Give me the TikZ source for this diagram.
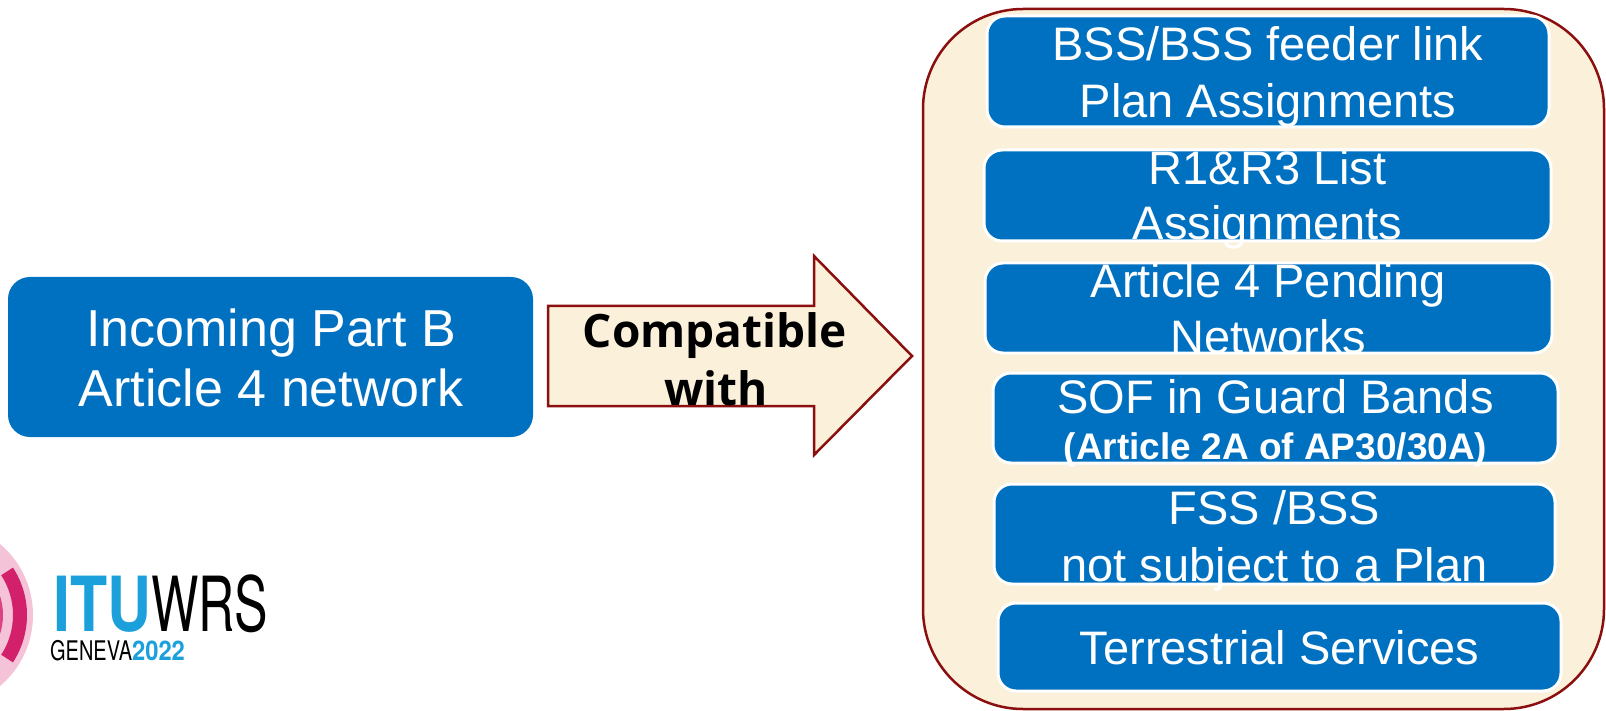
\documentclass[tikz,border=0pt]{standalone}
\usepackage{fontspec}
\usetikzlibrary{calc}
\setmainfont{Liberation Sans}
\newfontfamily\compfont{Open Sans}
\newfontfamily\logofont{TeX Gyre Heros}
\definecolor{boxblue}{HTML}{0070C0}
\definecolor{parch}{HTML}{FBF0DA}
\definecolor{darkred}{HTML}{8B0F0F}
\definecolor{itublue}{HTML}{1BA0DC}
\definecolor{pinklight}{HTML}{F4C3D7}
\definecolor{ringdark}{HTML}{D3206B}
\begin{document}
\begin{tikzpicture}[x=1pt,y=-1pt,
  bluebox/.style={draw=white, line width=3pt, fill=boxblue, rounded corners=18pt, inner sep=0pt},
  boxtext/.style={text=white, inner sep=0pt, anchor=base, font=\fontsize{47}{56}\selectfont},
  smalltext/.style={text=white, inner sep=0pt, anchor=base, font=\fontsize{37}{44}\selectfont\bfseries},
  lefttext/.style={text=white, inner sep=0pt, anchor=base, font=\fontsize{52}{60}\selectfont},
  comptext/.style={text=black, inner sep=0pt, anchor=base, font=\fontsize{46}{52}\selectfont\compfont\bfseries},
  logotext/.style={inner sep=0pt, anchor=base west}]
\useasboundingbox (0,0) rectangle (1606,711);
\fill[white] (0,0) rectangle (1606,711);

% logo arcs
\begin{scope}
\clip (0,0) rectangle (1606,711);
\coordinate (lc) at (-60,615);
\fill[pinklight] (lc) circle[radius=93];
\fill[ringdark] ($(lc)+(-33:87)$) arc[start angle=-33,end angle=33,radius=87]
   -- ($(lc)+(33:73)$) arc[start angle=33,end angle=-33,radius=73] -- cycle;
\fill[ringdark!85!white] ($(lc)+(-40:63)$) arc[start angle=-40,end angle=40,radius=63]
   -- ($(lc)+(40:53)$) arc[start angle=40,end angle=-40,radius=53] -- cycle;
\end{scope}
\node[logotext] (logo) at (50,660) {\logofont\vbox{\baselineskip=29pt\lineskiplimit=-100pt\lineskip=0pt
  \hbox{\kern3pt\fontsize{76}{76}\selectfont\scalebox{0.8}[1]{\color{itublue}\bfseries ITU}\scalebox{0.66}[1]{WRS}}
  \hbox{\fontsize{27}{27}\selectfont\scalebox{0.74}[1]{GENEVA}\scalebox{0.88}[1]{\color{itublue}\bfseries 2022}}}};

% container
\draw[darkred, line width=2.5pt, fill=parch, rounded corners=100pt] (923,9) rectangle (1604,709);

% left box
\node[bluebox, draw=none, rounded corners=22pt, minimum width=525pt, minimum height=160pt] (inb) at (270.5,357) {};
\node[lefttext] (inb1) at (271,346) {Incoming Part B};
\node[lefttext] (inb2) at (271,406) {Article 4 network};

% block arrow
\draw[darkred, line width=2.5pt, fill=parch, line join=miter]
  (548,306) -- (814,306) -- (814,256) -- (912,356) -- (814,455) -- (814,406) -- (548,406) -- cycle;
\node[comptext] (comp1) at (715,347) {Compatible};
\node[comptext] (comp2) at (716,405) {with};

% right boxes
\node[bluebox, minimum width=562pt, minimum height=111pt] (b1) at (1268,71.5) {};
\node[bluebox, minimum width=567pt, minimum height=91pt] (b2) at (1267.5,195.5) {};
\node[bluebox, minimum width=567pt, minimum height=90pt] (b3) at (1268.5,308) {};
\node[bluebox, minimum width=565pt, minimum height=90pt] (b4) at (1275.5,418) {};
\node[bluebox, minimum width=561pt, minimum height=100pt] (b5) at (1274.5,534) {};
\node[bluebox, minimum width=563pt, minimum height=88pt] (b6) at (1279.5,647) {};

\node[boxtext] (t1a) at (b1 |- 0,61) {BSS/BSS feeder link};
\node[boxtext] (t1b) at (b1 |- 0,118) {Plan Assignments};
\node[boxtext] (t2a) at (b2 |- 0,185) {R1\&R3 List};
\node[boxtext] (t2b) at (b2 |- 0,240) {Assignments};
\node[boxtext] (t3a) at (b3 |- 0,298) {Article 4 Pending};
\node[boxtext] (t3b) at (b3 |- 0,353) {Networks};
\node[boxtext] (t4a) at (b4 |- 0,413) {SOF in Guard Bands};
\node[smalltext] (t4b) at (b4 |- 0,459) {(Article 2A of AP30/30A)};
\node[boxtext] (t5a) at (b5 |- 0,524) {FSS /BSS};
\node[boxtext] (t5b) at (b5 |- 0,581) {not subject to a Plan};
\node[boxtext] (t6) at (b6 |- 0,664) {Terrestrial Services};
\end{tikzpicture}
\end{document}
